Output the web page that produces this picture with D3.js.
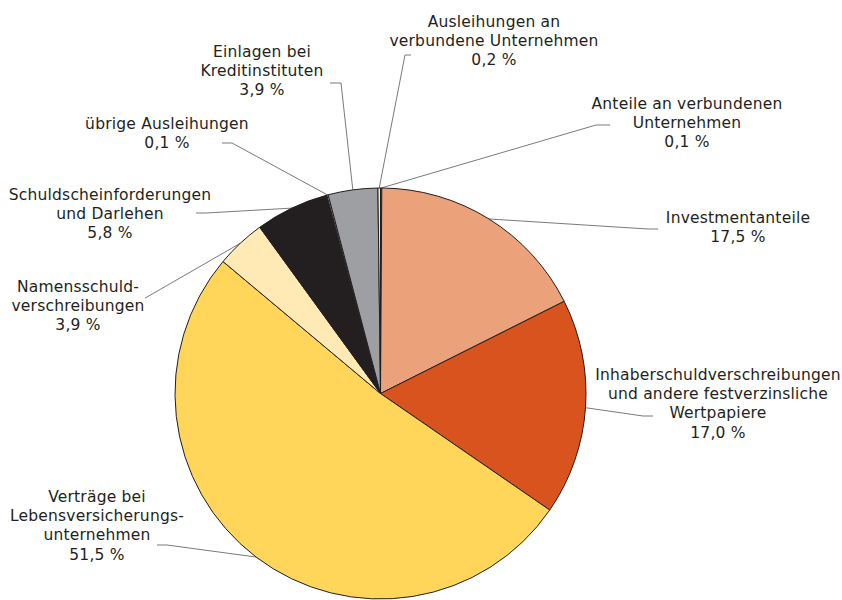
<!DOCTYPE html>
<html>
<head>
<meta charset="utf-8">
<script src="https://cdn.jsdelivr.net/npm/d3@7"></script>
<style>
  body { margin: 0; background: #fff; }
  text { font-family: "DejaVu Sans", Verdana, sans-serif; font-size: 15.5px; letter-spacing: 0.2px; fill: #231f20; }
</style>
</head>
<body>
<div id="chart"></div>
<script>
// slice data, clockwise from 12 o'clock
const categories = [
  "Anteile an verbundenen|Unternehmen",
  "Investmentanteile",
  "Inhaberschuldverschreibungen|und andere festverzinsliche|Wertpapiere",
  "Verträge bei|Lebensversicherungs-|unternehmen",
  "Namensschuld-|verschreibungen",
  "Schuldscheinforderungen|und Darlehen",
  "übrige Ausleihungen",
  "Einlagen bei|Kreditinstituten",
  "Ausleihungen an|verbundene Unternehmen"
];
const shares = [0.1, 17.5, 17.0, 51.5, 3.9, 5.8, 0.1, 3.9, 0.2];
const colors = ["#f9d3b4", "#eba17a", "#d9531e", "#ffd55a", "#ffe9b5", "#231f20", "#ffffff", "#9d9fa2", "#fbe6cc"];

// label layout: text centre x, first baseline y, leader start and knee
const labelPos = [
  { x: 687, y: 109, line: [[610, 125], [596, 125]] },
  { x: 738, y: 223, line: [[658, 229], [648, 229]] },
  { x: 718, y: 380, line: [[653, 416], [643, 416]] },
  { x: 97,  y: 502, line: [[157, 545], [167, 545]] },
  { x: 78,  y: 292, line: [[145, 298], [147, 297]] },
  { x: 110, y: 200, line: [[196, 213], [206, 213]] },
  { x: 167, y: 129, line: [[222, 143], [232, 143]] },
  { x: 262, y: 57,  line: [[330, 83], [341, 83]] },
  { x: 494, y: 27,  line: [[411, 55], [405, 55]] }
];

const width = 842, height = 600;
const cx = 380.5, cy = 393.5, radius = 205.5;

const svg = d3.select("#chart")
  .append("svg")
  .attr("width", width)
  .attr("height", height);

const data = categories.map((c, i) => ({ name: c, value: shares[i], color: colors[i], pos: labelPos[i] }));

const pie = d3.pie().sort(null).value(d => d.value);
const arcs = pie(data);

const arc = d3.arc().innerRadius(0).outerRadius(radius);
const edge = d3.arc().innerRadius(radius).outerRadius(radius);

// leader lines
svg.append("g")
  .selectAll("polyline")
  .data(arcs)
  .enter()
  .append("polyline")
  .attr("points", d => {
    const p = edge.centroid(d);
    const pts = d.data.pos.line.concat([[cx + p[0], cy + p[1]]]);
    return pts.map(q => q.join(",")).join(" ");
  })
  .attr("fill", "none")
  .attr("stroke", "#7a7a7a")
  .attr("stroke-width", 1);

// slices
svg.append("g")
  .attr("transform", `translate(${cx}, ${cy})`)
  .selectAll("path")
  .data(arcs)
  .enter()
  .append("path")
  .attr("d", arc)
  .attr("fill", d => d.data.color)
  .attr("stroke", "#231f20")
  .attr("stroke-width", 1)
  .attr("stroke-linejoin", "round");

// labels
const labels = svg.append("g")
  .selectAll("text")
  .data(data)
  .enter()
  .append("text")
  .attr("text-anchor", "middle")
  .attr("x", d => d.pos.x)
  .attr("y", d => d.pos.y);

labels.each(function(d) {
  const lines = d.name.split("|").concat([d3.format(".1f")(d.value).replace(".", ",") + " %"]);
  d3.select(this).selectAll("tspan")
    .data(lines)
    .enter()
    .append("tspan")
    .attr("x", d.pos.x)
    .attr("dy", (l, i) => i === 0 ? 0 : 19.2)
    .text(l => l);
});
</script>
</body>
</html>
